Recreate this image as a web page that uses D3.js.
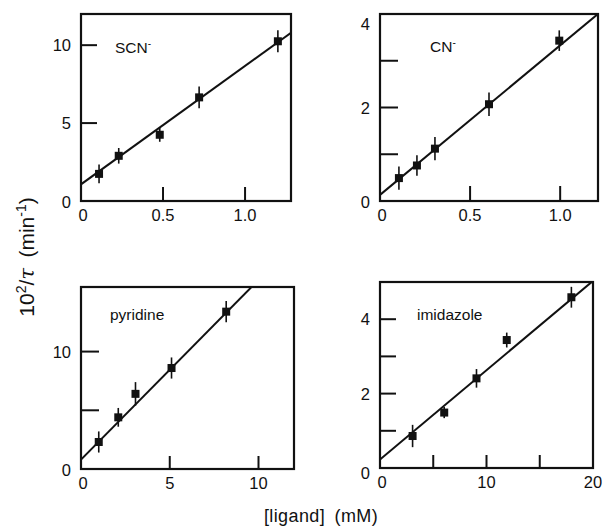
<!DOCTYPE html>
<html>
<head>
<meta charset="utf-8">
<script src="https://cdn.jsdelivr.net/npm/d3@7/dist/d3.min.js"></script>
<style>
  body { margin: 0; background: #fff; }
  text { font-family: "Liberation Sans", Arial, sans-serif; fill: #111; }
</style>
</head>
<body>
<svg id="chart" width="607" height="527"></svg>
<script>
// ---- data ----
const scnX = [0.11, 0.23, 0.48, 0.72, 1.2];
const scnY = [1.74, 2.9, 4.25, 6.65, 10.25];
const scnErr = [0.6, 0.5, 0.45, 0.7, 0.7];
const scnFit = [1.07, 7.6];          // intercept, slope

const cnX = [0.105, 0.205, 0.305, 0.605, 0.995];
const cnY = [0.49, 0.76, 1.12, 2.07, 3.43];
const cnErr = [0.25, 0.22, 0.25, 0.25, 0.22];
const cnFit = [0.13, 3.2];

const pyrX = [1.0, 2.1, 3.07, 5.1, 8.18];
const pyrY = [2.3, 4.4, 6.4, 8.6, 13.4];
const pyrErr = [0.9, 0.8, 1.0, 0.9, 0.9];
const pyrFit = [0.8, 1.53];

const imX = [3.06, 6.03, 9.06, 11.9, 17.97];
const imY = [0.86, 1.49, 2.41, 3.44, 4.59];
const imErr = [0.3, 0.15, 0.25, 0.2, 0.28];
const imFit = [0.23, 0.24];

const panelNames = ["SCN", "CN", "pyridine", "imidazole"];
const scnXTicks = [0, 0.5, 1.0], scnXTickLabels = ["0", "0.5", "1.0"];
const scnYTicks = [0, 5, 10];
const cnXTicks = [0, 0.5, 1.0], cnXTickLabels = ["0", "0.5", "1.0"];
const cnYTicks = [0, 1, 2, 3, 4], cnYTickLabels = ["0", "", "2", "", "4"];
const pyrXTicks = [0, 5, 10];
const pyrYTicks = [0, 5, 10], pyrYTickLabels = ["0", "", "10"];
const imXTicks = [0, 5, 10, 15, 20], imXTickLabels = ["0", "", "10", "", "20"];
const imYTicks = [0, 1, 2, 3, 4, 5], imYTickLabels = ["0", "", "2", "", "4", ""];

// ---- layout ----
const panels = [
  { name: panelNames[0], sup: "-", x: scnX, y: scnY, err: scnErr, fit: scnFit,
    box: [81, 291, 14, 201], xd: [0, 1.28], yd: [0, 12],
    xt: scnXTicks, xtl: scnXTickLabels, yt: scnYTicks, ytl: scnYTicks.map(String),
    ytLen: 16, xtLen: 14, labX: 115, labY: 53, topLabShift: 0},
  { name: panelNames[1], sup: "-", x: cnX, y: cnY, err: cnErr, fit: cnFit,
    box: [380, 598, 14, 201], xd: [0, 1.21], yd: [0, 4],
    xt: cnXTicks, xtl: cnXTickLabels, yt: cnYTicks, ytl: cnYTickLabels,
    ytLen: 18, xtLen: 15, labX: 430, labY: 52, topLabShift: 10},
  { name: panelNames[2], sup: "", x: pyrX, y: pyrY, err: pyrErr, fit: pyrFit,
    box: [81, 294, 287, 469], xd: [0, 12], yd: [0, 15.5],
    xt: pyrXTicks, xtl: pyrXTicks.map(String), yt: pyrYTicks, ytl: pyrYTickLabels,
    ytLen: 18, xtLen: 13, labX: 110, labY: 320, topLabShift: 0},
  { name: panelNames[3], sup: "", x: imX, y: imY, err: imErr, fit: imFit,
    box: [380, 593, 282, 468], xd: [0, 20], yd: [0, 5],
    xt: imXTicks, xtl: imXTickLabels, yt: imYTicks, ytl: imYTickLabels,
    ytLen: 16, xtLen: 13, labX: 417, labY: 320, topLabShift: 0}
];

const svg = d3.select("#chart");

panels.forEach((p, pi) => {
  const [l, r, t, b] = p.box;
  const xs = d3.scaleLinear().domain(p.xd).range([l, r]);
  const ys = d3.scaleLinear().domain(p.yd).range([b, t]);
  const g = svg.append("g");

  // inner ticks (not at the frame edges)
  const xInner = p.xt.filter(v => v > p.xd[0] && v < p.xd[1]);
  const yInner = p.yt.filter(v => v > p.yd[0] && v < p.yd[1]);
  g.selectAll(".xt").data(xInner).join("line")
    .attr("x1", d => xs(d)).attr("x2", d => xs(d))
    .attr("y1", b).attr("y2", b - p.xtLen)
    .attr("stroke", "#111").attr("stroke-width", 2);
  g.selectAll(".yt").data(yInner).join("line")
    .attr("y1", d => ys(d)).attr("y2", d => ys(d))
    .attr("x1", l).attr("x2", l + p.ytLen)
    .attr("stroke", "#111").attr("stroke-width", 2);

  // tick labels
  g.selectAll(".xl").data(p.xt.map((v, i) => [v, p.xtl[i]]).filter(d => d[1] !== "")).join("text")
    .attr("x", d => xs(d[0]) + (d[0] === 0 ? 2 : 0)).attr("y", b + 20)
    .attr("text-anchor", "middle").attr("font-size", 16.5).text(d => d[1]);
  g.selectAll(".yl").data(p.yt.map((v, i) => [v, p.ytl[i]]).filter(d => d[1] !== "")).join("text")
    .attr("x", l - 10)
    .attr("y", d => ys(d[0]) + 6 + (d[0] === p.yd[1] ? p.topLabShift : 0) + (d[0] === 0 ? (pi === 3 ? 5 : 1) : 0))
    .attr("text-anchor", "end").attr("font-size", 16.5).text(d => d[1]);

  // clip for line
  const cid = "clip" + pi;
  svg.append("clipPath").attr("id", cid).append("rect")
    .attr("x", l).attr("y", t).attr("width", r - l).attr("height", b - t);

  // fit line
  const lineX = [p.xd[0], p.xd[1]];
  g.append("line")
    .attr("clip-path", `url(#${cid})`)
    .attr("x1", xs(lineX[0])).attr("y1", ys(p.fit[0] + p.fit[1] * lineX[0]))
    .attr("x2", xs(lineX[1])).attr("y2", ys(p.fit[0] + p.fit[1] * lineX[1]))
    .attr("stroke", "#111").attr("stroke-width", 2);

  const pts = p.x.map((v, i) => ({ x: v, y: p.y[i], e: p.err[i] }));
  // error bars
  g.selectAll(".eb").data(pts).join("line")
    .attr("x1", d => xs(d.x)).attr("x2", d => xs(d.x))
    .attr("y1", d => ys(d.y - d.e)).attr("y2", d => ys(d.y + d.e))
    .attr("stroke", "#111").attr("stroke-width", 1.6);
  // markers
  const s = 8;
  g.selectAll(".pt").data(pts).join("rect")
    .attr("x", d => xs(d.x) - s / 2).attr("y", d => ys(d.y) - s / 2)
    .attr("width", s).attr("height", s).attr("fill", "#111");

  // frame
  g.append("rect").attr("x", l).attr("y", t).attr("width", r - l).attr("height", b - t)
    .attr("fill", "none").attr("stroke", "#111").attr("stroke-width", 2.2);

  // panel label
  const tl = g.append("text").attr("x", p.labX).attr("y", p.labY).attr("font-size", 15.5).text(p.name);
  if (p.sup) tl.append("tspan").attr("dy", -6).attr("font-size", 10).text(p.sup);
});

// axis titles
const yTitle = svg.append("text")
  .attr("transform", "translate(34,257) rotate(-90)")
  .attr("text-anchor", "middle").attr("font-size", 21);
yTitle.append("tspan").text("10");
yTitle.append("tspan").attr("dy", -8).attr("font-size", 14).text("2");
yTitle.append("tspan").attr("dy", 8).text("/");
yTitle.append("tspan").attr("font-style", "italic").attr("font-family", "DejaVu Serif, serif").text("τ");
yTitle.append("tspan").text("\u2002(min");
yTitle.append("tspan").attr("dy", -8).attr("font-size", 14).text("-1");
yTitle.append("tspan").attr("dy", 8).text(")");

svg.append("text").attr("x", 321).attr("y", 522).attr("text-anchor", "middle")
  .attr("font-size", 18).attr("letter-spacing", 0.4).text("[ligand]\u2002(mM)");
</script>
</body>
</html>
